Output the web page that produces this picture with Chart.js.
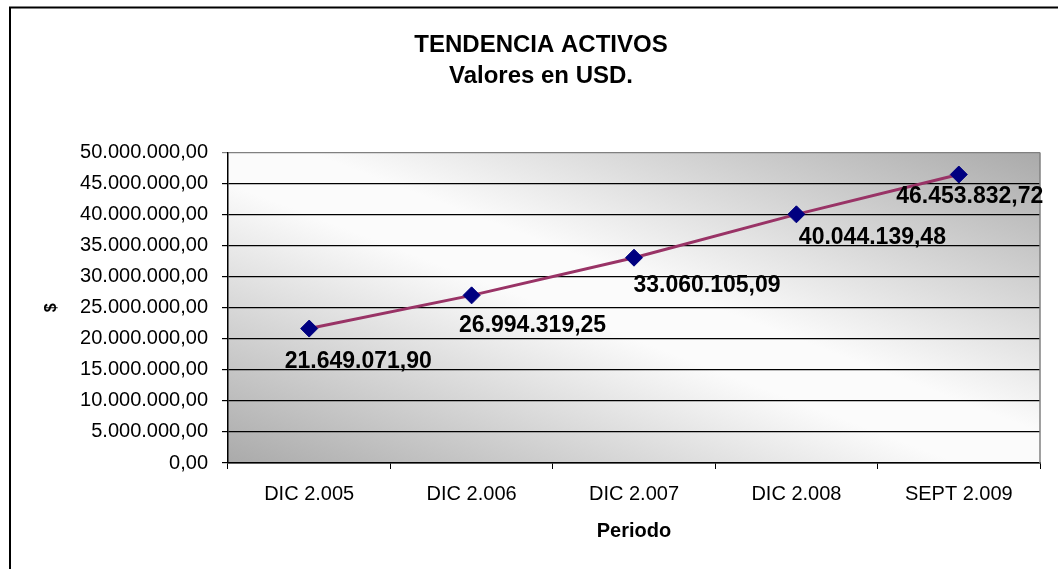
<!DOCTYPE html>
<html>
<head>
<meta charset="utf-8">
<title>Tendencia Activos</title>
<script src="https://cdn.jsdelivr.net/npm/chart.js@4.4.1/dist/chart.umd.min.js"></script>
<style>
  html, body { margin: 0; padding: 0; background: #ffffff; }
</style>
</head>
<body>
<canvas id="activosChart" width="1058" height="569"></canvas>
<script>
// datos del grafico
const periodos = ['DIC 2.005', 'DIC 2.006', 'DIC 2.007', 'DIC 2.008', 'SEPT 2.009'];
const activos = [21649071.90, 26994319.25, 33060105.09, 40044139.48, 46453832.72];
const ejeMin = 0;
const ejeMax = 50000000;
const ejePaso = 5000000;

// posicion de cada etiqueta de valor respecto a su punto (centro del texto)
const desplazamientos = [[49, 33], [61, 30], [73, 28], [76, 23], [11, 22]];

const fuente = '"Liberation Sans", Arial, Helvetica, sans-serif';

// 21649071.9 -> "21.649.071,90"
function formatoNumero(v) {
  const partes = Math.abs(v).toFixed(2).split('.');
  const entero = partes[0].replace(/\B(?=(\d{3})+(?!\d))/g, '.');
  return (v < 0 ? '-' : '') + entero + ',' + partes[1];
}

// marco exterior y fondo degradado del area de trazado
const fondoPlugin = {
  id: 'fondo',
  beforeDraw(chart) {
    const { ctx, chartArea: a } = chart;
    ctx.save();
    ctx.fillStyle = '#ffffff';
    ctx.fillRect(0, 0, chart.width, chart.height);
    ctx.strokeStyle = '#000000';
    ctx.lineWidth = 2;
    ctx.strokeRect(10, 7.5, 1200, 700);

    // degradado diagonal en coordenadas relativas al area
    ctx.translate(a.left, a.top);
    ctx.scale(a.right - a.left, a.bottom - a.top);
    const g = ctx.createLinearGradient(0, 1, 1, 0);
    g.addColorStop(0, '#aaaaaa');
    g.addColorStop(0.45, '#fbfbfb');
    g.addColorStop(0.55, '#fbfbfb');
    g.addColorStop(1, '#aaaaaa');
    ctx.fillStyle = g;
    ctx.fillRect(0, 0, 1, 1);
    ctx.restore();
  },
  beforeDatasetsDraw(chart) {
    const { ctx, chartArea: a } = chart;
    ctx.save();
    ctx.strokeStyle = '#808080';
    ctx.lineWidth = 1.5;
    ctx.beginPath();
    ctx.moveTo(a.right, a.top);
    ctx.lineTo(a.right, a.bottom);
    ctx.stroke();
    ctx.restore();
  }
};

// etiquetas con el valor de cada punto
const etiquetasPlugin = {
  id: 'etiquetas',
  afterDatasetsDraw(chart) {
    const { ctx } = chart;
    const meta = chart.getDatasetMeta(0);
    ctx.save();
    ctx.font = 'bold 23px ' + fuente;
    ctx.fillStyle = '#000000';
    ctx.textAlign = 'center';
    ctx.textBaseline = 'middle';
    meta.data.forEach((pt, i) => {
      const d = desplazamientos[i];
      ctx.fillText(formatoNumero(activos[i]), pt.x + d[0], pt.y + d[1]);
    });
    ctx.restore();
  }
};

const ctx = document.getElementById('activosChart').getContext('2d');

new Chart(ctx, {
  type: 'line',
  data: {
    labels: periodos,
    datasets: [{
      label: 'Activos',
      data: activos,
      borderColor: '#993366',
      borderWidth: 3,
      tension: 0,
      pointStyle: 'rectRot',
      pointRadius: 8.5,
      pointBackgroundColor: '#000080',
      pointBorderColor: '#000080',
      pointBorderWidth: 1
    }]
  },
  options: {
    responsive: false,
    animation: false,
    layout: {
      padding: { top: 0, right: 18, bottom: 0, left: 42 }
    },
    plugins: {
      legend: { display: false },
      tooltip: { enabled: false },
      title: {
        display: true,
        text: ['TENDENCIA ACTIVOS', 'Valores en USD.'],
        color: '#000000',
        font: { family: fuente, size: 24, weight: 'bold', lineHeight: 1.3 },
        padding: { top: 29.4, bottom: 60.7 }
      }
    },
    scales: {
      x: {
        offset: true,
        grid: {
          display: true,
          drawOnChartArea: false,
          drawTicks: true,
          tickLength: 6,
          color: '#000000',
          offset: true
        },
        border: { color: '#000000', width: 1.5 },
        ticks: {
          color: '#000000',
          font: { family: fuente, size: 20 },
          padding: 13,
          maxRotation: 0,
          autoSkip: false
        },
        title: {
          display: true,
          text: 'Periodo',
          color: '#000000',
          font: { family: fuente, size: 20, weight: 'bold' },
          padding: { top: 0, bottom: 26 }
        },
        afterFit(scale) { scale.height = 106; }
      },
      y: {
        min: ejeMin,
        max: ejeMax,
        grid: {
          color: (c) => (c.tick && c.tick.value === ejeMax ? '#808080' : '#000000'),
          lineWidth: 1.2,
          tickLength: 6,
          drawTicks: true
        },
        border: { color: '#000000', width: 1.5 },
        ticks: {
          stepSize: ejePaso,
          color: '#000000',
          font: { family: fuente, size: 20 },
          padding: 14,
          callback: (v) => formatoNumero(v)
        },
        title: {
          display: true,
          text: '$',
          color: '#000000',
          font: { family: fuente, size: 16, weight: 'bold' },
          padding: { top: 0, bottom: 0 }
        },
        afterFit(scale) { scale.width = 186; }
      }
    }
  },
  plugins: [fondoPlugin, etiquetasPlugin]
});
</script>
</body>
</html>
